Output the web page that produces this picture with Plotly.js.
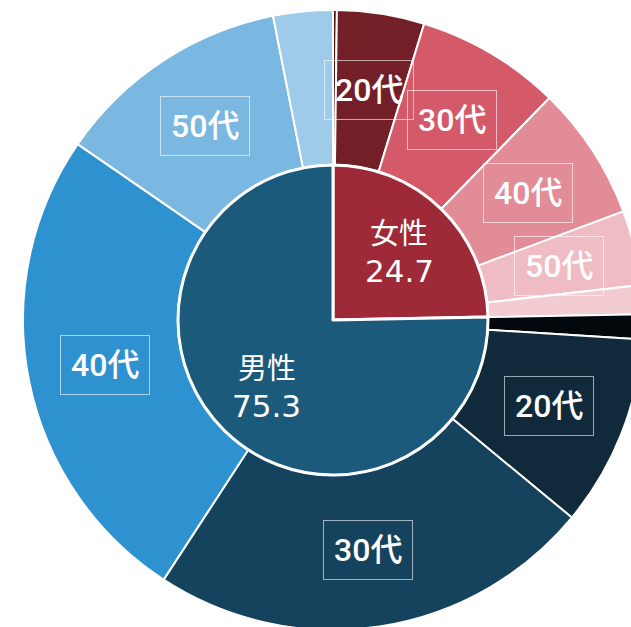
<!DOCTYPE html>
<html><head><meta charset="utf-8">
<script src="https://cdn.plot.ly/plotly-3.0.1.min.js"></script>
<style>
html,body{margin:0;padding:0;overflow:hidden;width:631px;height:627px;background:#fff}
#chart{position:absolute;left:23px;top:10px;width:620px;height:620px}
</style>
</head><body><div id="chart"></div>
<script>
// Inner ring: gender share (%)
const genders = ['女性', '男性'];
const genderTotals = [24.7, 75.3];
// Outer ring: age groups within each gender (%)
const ageGroups = ['10代', '20代', '30代', '40代', '50代', '60代'];
const femaleByAge = [0.2, 4.55, 7.55, 7.0, 3.9, 1.5];
const maleByAge = [1.3, 10.0, 23.2, 25.4, 12.3, 3.1];

const genderColors = ['#9E2937', '#1C5A7C'];
const femaleColors = ['#4E1118', '#731F28', '#D55A69', '#E18C96', '#EFBCC3', '#F3CCD1'];
const maleColors = ['#03080C', '#102A3C', '#15425C', '#2E91D0', '#7AB8E2', '#9ECBE9'];

const outerLabels = [], outerValues = [], outerColors = [], outerText = [];
ageGroups.forEach((a, i) => { outerLabels.push('女性 ' + a); outerValues.push(femaleByAge[i]); outerColors.push(femaleColors[i]); outerText.push(a); });
ageGroups.forEach((a, i) => { outerLabels.push('男性 ' + a); outerValues.push(maleByAge[i]); outerColors.push(maleColors[i]); outerText.push(a); });

const outer = {
  type: 'pie', labels: outerLabels, values: outerValues, sort: false,
  direction: 'clockwise', rotation: 0, hole: 0.5,
  domain: {x: [0, 1], y: [0, 1]},
  marker: {colors: outerColors, line: {color: '#ffffff', width: 2}},
  textinfo: 'none', hoverinfo: 'none', showlegend: false
};
const inner = {
  type: 'pie', labels: genders, values: genderTotals, sort: false,
  direction: 'clockwise', rotation: 0,
  domain: {x: [0.25, 0.75], y: [0.25, 0.75]},
  marker: {colors: genderColors, line: {color: '#ffffff', width: 3}},
  textinfo: 'none', hoverinfo: 'none', showlegend: false
};

const annotations = [];
const OUTER_FONT = 'Roboto, "Liberation Sans", "Noto Sans CJK JP", sans-serif';
const INNER_FONT = '"DejaVu Sans", "Noto Sans CJK JP", sans-serif';
function pos(frac, r) {
  const t = frac * 2 * Math.PI;
  return {x: 0.5 + r * Math.sin(t), y: 0.5 + r * Math.cos(t)};
}
const outerTotal = outerValues.reduce((s, v) => s + v, 0);
let cum = 0;
outerValues.forEach((v, i) => {
  const mid = (cum + v / 2) / outerTotal;
  cum += v;
  if (v < 3.5) return;
  const p = pos(mid, 0.375);
  annotations.push({
    xref: 'paper', yref: 'paper', x: p.x, y: p.y, xanchor: 'center', yanchor: 'middle',
    text: outerText[i], showarrow: false,
    font: {family: OUTER_FONT, size: 32, color: '#ffffff', weight: 500},
    bordercolor: 'rgba(255,255,255,0.6)', borderwidth: 1, borderpad: 10
  });
});
const innerTotal = genderTotals.reduce((s, v) => s + v, 0);
const half = 18.5 / 620;
cum = 0;
genderTotals.forEach((v, i) => {
  const mid = (cum + v / 2) / innerTotal;
  cum += v;
  const p = pos(mid, 0.152);
  annotations.push({
    xref: 'paper', yref: 'paper', x: p.x, y: p.y + half, xanchor: 'center', yanchor: 'middle',
    text: genders[i], showarrow: false,
    font: {family: INNER_FONT, size: 29, color: '#ffffff'}
  });
  annotations.push({
    xref: 'paper', yref: 'paper', x: p.x, y: p.y - half, xanchor: 'center', yanchor: 'middle',
    text: v.toFixed(1), showarrow: false,
    font: {family: INNER_FONT, size: 31, color: '#ffffff'}
  });
});

Plotly.newPlot('chart', [outer, inner], {
  width: 620, height: 620, margin: {l: 0, r: 0, t: 0, b: 0},
  paper_bgcolor: '#ffffff', showlegend: false, annotations: annotations
}, {displayModeBar: false, staticPlot: true});
</script>
</body></html>
